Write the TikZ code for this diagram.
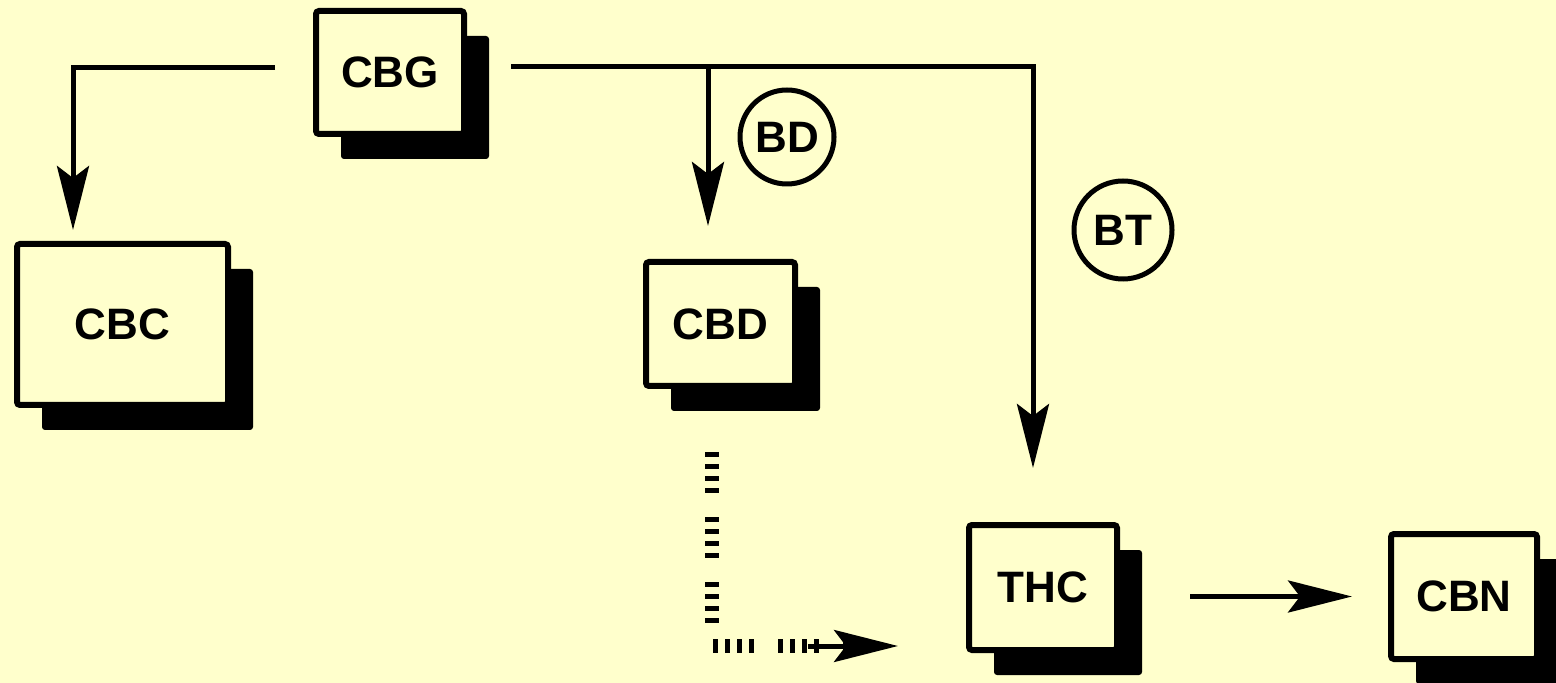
\documentclass[tikz,border=0pt]{standalone}
\usepackage{fontspec}
\setmainfont{Liberation Sans}
\usepackage{xcolor}
\usetikzlibrary{arrows.meta, calc, shadows}
\definecolor{paleyellow}{RGB}{255,255,204}

\begin{document}
\begin{tikzpicture}[x=0.5pt, y=-0.5pt,
    every node/.style={font=\fontsize{22}{26}\selectfont\bfseries, inner sep=0pt},
    block/.style={rectangle, draw, line width=3pt, fill=paleyellow, rounded corners=1.5pt,
        drop shadow={shadow xshift=12.5pt, shadow yshift=-12.5pt, fill=black, opacity=1}},
    tag/.style={circle, draw, line width=2.5pt, fill=paleyellow},
    flow/.style={line width=2.5pt, -{Stealth[length=32pt, width=16pt, inset=6pt]}},
    dotflow/.style={line width=7pt,
        dash pattern=on 2.5pt off 3.5pt on 2.5pt off 3.5pt on 2.5pt off 3.5pt on 2.5pt off 12pt}]
    \fill[paleyellow] (0,0) rectangle (1556,683);
    \useasboundingbox (0,0) rectangle (1556,683);

    \node[block, minimum width=74pt, minimum height=61.5pt] (cbg) at (390,72.5) {CBG};
    \node[block, minimum width=105.5pt, minimum height=80.5pt] (cbc) at (122.5,324.5) {CBC};
    \node[block, minimum width=74.5pt, minimum height=62pt] (cbd) at (720.5,324) {CBD};
    \node[block, minimum width=74pt, minimum height=62.5pt] (thc) at (1043,587.5) {THC};
    \node[block, minimum width=73pt, minimum height=62.5pt] (cbn) at (1464,596.5) {CBN};
    \node[tag, minimum size=47pt] (bd) at (787,137) {BD};
    \node[tag, minimum size=49pt] (bt) at (1123,230) {BT};

    \coordinate (cbgL) at (275,68);
    \coordinate (cbgR) at (511,67);
    \coordinate (split) at (708,67);
    \coordinate (dotStart) at ([xshift=-4.25pt, yshift=-31.5pt]cbd.south);
    \coordinate (dotEnd) at ([xshift=-34pt, yshift=-29.25pt]thc.west);

    \draw[flow, shorten >=5.5pt] (cbgL) -| ([xshift=-24.75pt]cbc.north);
    \draw[flow, shorten >=27pt] (cbgR) -| ([xshift=-5pt]thc.north);
    \draw[flow, shorten >=16.5pt] (split) -- (split |- cbd.north);
    \draw[flow, shorten <=35pt, shorten >=18pt] (thc.east |- cbn.west) -- (cbn.west);
    \draw[dotflow, shorten >=26pt] (dotStart) |- (dotEnd);
    \draw[flow] ([xshift=-45pt]dotEnd) -- (dotEnd);
\end{tikzpicture}
\end{document}
